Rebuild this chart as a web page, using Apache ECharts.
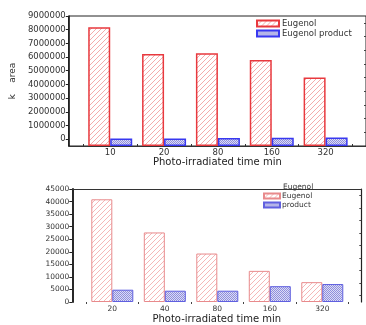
<!DOCTYPE html>
<html><head><meta charset="utf-8">
<script src="https://cdn.jsdelivr.net/npm/echarts@6/dist/echarts.min.js"></script>
<style>html,body{margin:0;padding:0;background:#fff}#c{width:366px;height:325px}</style>
</head><body><div id="c"></div>
<script>
// ---- data ----
var topCategories = ['10', '20', '80', '160', '320'];
var topEugenol = [8170000, 6220000, 6270000, 5780000, 4510000];
var topProduct = [40000, 40000, 80000, 100000, 120000];
var topYTicks = [0, 1000000, 2000000, 3000000, 4000000, 5000000, 6000000, 7000000, 8000000, 9000000];

var bottomCategories = ['20', '40', '80', '160', '320'];
var bottomEugenol = [40900, 27700, 19300, 12400, 7900];
var bottomProduct = [4900, 4500, 4500, 6300, 7150];
var bottomYTicks = [0, 5000, 10000, 15000, 20000, 25000, 30000, 35000, 40000, 45000];

var FONT = 'DejaVu Sans';

function hatch(color, bg) {
  var c = document.createElement('canvas'); c.width = 5; c.height = 5;
  var g = c.getContext('2d');
  g.fillStyle = bg; g.fillRect(0, 0, 5, 5);
  g.strokeStyle = color; g.lineWidth = 0.9;
  for (var o = -5; o <= 5; o += 5) { g.beginPath(); g.moveTo(o, 5); g.lineTo(o + 5, 0); g.stroke(); }
  return c;
}
function cross(dark, light) {
  var c = document.createElement('canvas'); c.width = 2; c.height = 2;
  var g = c.getContext('2d');
  g.fillStyle = light; g.fillRect(0, 0, 2, 2);
  g.fillStyle = dark; g.fillRect(0, 0, 1, 1); g.fillRect(1, 1, 1, 1);
  return c;
}
var redPatTop = hatch('#f3a3a3', '#ffffff');
var redPatBot = hatch('#f4b0b0', '#ffffff');
var bluePat = cross('#8f8fdc', '#dcdcf5');

function pairs(arr) { return arr.map(function (v, i) { return [i, v]; }); }
function centers(cats) { return cats.map(function (c, i) { return i; }); }
function bounds(cats) { var b = cats.map(function (c, i) { return i - 0.5; }); b.push(cats.length - 0.5); return b; }
function halves(ticks) { var h = []; for (var i = 0; i < ticks.length - 1; i++) h.push((ticks[i] + ticks[i + 1]) / 2); return h; }

var chart = echarts.init(document.getElementById('c'));
chart.setOption({
  animation: false,
  textStyle: { fontFamily: FONT },
  title: [{ text: 'Eugenol', left: 283, top: 183, padding: 0,
    textStyle: { fontFamily: FONT, fontSize: 7.5, fontWeight: 'normal', color: '#333' } }],
  legend: [
    { data: ['Eugenol', 'Eugenol product'], orient: 'vertical', left: 256, top: 19, padding: 0,
      itemWidth: 22, itemHeight: 6, itemGap: 1, icon: 'rect',
      textStyle: { fontFamily: FONT, fontSize: 8.5, color: '#333', lineHeight: 7, padding: [0, 0, 0, -2] } },
    { data: ['Eugenol ', 'product'], orient: 'vertical', left: 263, top: 192, padding: 0,
      itemWidth: 16, itemHeight: 5, itemGap: 1, icon: 'rect',
      textStyle: { fontFamily: FONT, fontSize: 7.5, color: '#333', lineHeight: 7, padding: [0, 0, 0, -3] } }
  ],
  grid: [
    { left: 65, top: 16, width: 304.7, height: 130, show: true, borderColor: '#222', borderWidth: 1 },
    { left: 72.3, top: 189, width: 289, height: 120 }
  ],
  xAxis: [
    { gridIndex: 0, type: 'value', min: -0.77, max: 4.75,
      name: 'Photo-irradiated time min', nameLocation: 'middle', nameGap: 10,
      nameTextStyle: { fontFamily: FONT, fontSize: 10, color: '#222' },
      axisLine: { show: true, onZero: false, lineStyle: { color: '#333', width: 1 } },
      axisTick: { show: true, inside: true, length: 2, customValues: bounds(topCategories), lineStyle: { color: '#333' } },
      axisLabel: { customValues: centers(topCategories), margin: 2, fontFamily: FONT, fontSize: 8.5, color: '#333',
        formatter: function (v) { return topCategories[Math.round(v)]; } },
      splitLine: { show: false } },
    { gridIndex: 1, type: 'value', min: -0.762, max: 4.743,
      name: 'Photo-irradiated time min', nameLocation: 'middle', nameGap: 12,
      nameTextStyle: { fontFamily: FONT, fontSize: 10, color: '#222' },
      axisLine: { show: false, onZero: false },
      axisTick: { show: true, length: 2, customValues: bounds(bottomCategories), lineStyle: { color: '#444' } },
      axisLabel: { customValues: centers(bottomCategories), margin: 3, fontFamily: FONT, fontSize: 7.5, color: '#333',
        formatter: function (v) { return bottomCategories[Math.round(v)]; } },
      splitLine: { show: false } },
    { gridIndex: 1, type: 'value', position: 'top', min: -0.762, max: 4.743,
      axisLine: { show: true, onZero: false, lineStyle: { color: '#333', width: 1 } },
      axisTick: { show: false }, axisLabel: { show: false }, splitLine: { show: false } }
  ],
  yAxis: [
    { gridIndex: 0, type: 'value', min: -500000, max: 9000000, startValue: -500000,
      name: 'k    area', nameLocation: 'middle', nameGap: 50, nameRotate: 90,
      nameTextStyle: { fontFamily: FONT, fontSize: 9, color: '#333' },
      axisLine: { show: true, onZero: false, lineStyle: { color: '#111', width: 1.5 } },
      axisTick: { show: true, length: 3, customValues: topYTicks, lineStyle: { color: '#222' } },
      axisLabel: { customValues: topYTicks, margin: 3, fontFamily: FONT, fontSize: 8.5, color: '#333',
        formatter: function (v) { return String(v); } },
      splitLine: { show: false } },
    { gridIndex: 0, type: 'value', min: -500000, max: 9000000,
      axisLine: { show: false, onZero: false },
      axisTick: { show: true, inside: true, length: 2, customValues: halves(topYTicks), lineStyle: { color: '#444' } },
      axisLabel: { show: false }, splitLine: { show: false } },
    { gridIndex: 1, type: 'value', min: 0, max: 45000,
      axisLine: { show: true, onZero: false, lineStyle: { color: '#111', width: 1.8 } },
      axisTick: { show: true, length: 3, customValues: bottomYTicks, lineStyle: { color: '#222' } },
      axisLabel: { customValues: bottomYTicks, margin: 3, fontFamily: FONT, fontSize: 7.5, color: '#333',
        formatter: function (v) { return String(v); } },
      splitLine: { show: false } },
    { gridIndex: 1, type: 'value', min: 0, max: 45000,
      axisLine: { show: false, onZero: false },
      axisTick: { show: true, inside: true, length: 2, customValues: halves(bottomYTicks), lineStyle: { color: '#444' } },
      axisLabel: { show: false }, splitLine: { show: false } },
    { gridIndex: 1, type: 'value', position: 'right', min: 0, max: 45000,
      axisLine: { show: true, onZero: false, lineStyle: { color: '#222', width: 1.2 } },
      axisTick: { show: false }, axisLabel: { show: false }, splitLine: { show: false } }
  ],
  series: [
    { name: 'Eugenol', type: 'bar', xAxisIndex: 0, yAxisIndex: 0, barWidth: 22, barGap: '0%',
      data: pairs(topEugenol),
      itemStyle: { color: { image: redPatTop, repeat: 'repeat' }, borderColor: '#e8393e', borderWidth: 1.5 } },
    { name: 'Eugenol product', type: 'bar', xAxisIndex: 0, yAxisIndex: 0, barWidth: 22, barGap: '0%',
      data: pairs(topProduct),
      itemStyle: { color: { image: bluePat, repeat: 'repeat' }, borderColor: '#3838f0', borderWidth: 1.5 } },
    { name: 'Eugenol ', type: 'bar', xAxisIndex: 1, yAxisIndex: 2, barWidth: 21, barGap: '0%',
      data: pairs(bottomEugenol),
      itemStyle: { color: { image: redPatBot, repeat: 'repeat' }, borderColor: '#e88a8c', borderWidth: 1 } },
    { name: 'product', type: 'bar', xAxisIndex: 1, yAxisIndex: 2, barWidth: 21, barGap: '0%',
      data: pairs(bottomProduct),
      itemStyle: { color: { image: bluePat, repeat: 'repeat' }, borderColor: '#6060e0', borderWidth: 1 } }
  ]
});
</script></body></html>
